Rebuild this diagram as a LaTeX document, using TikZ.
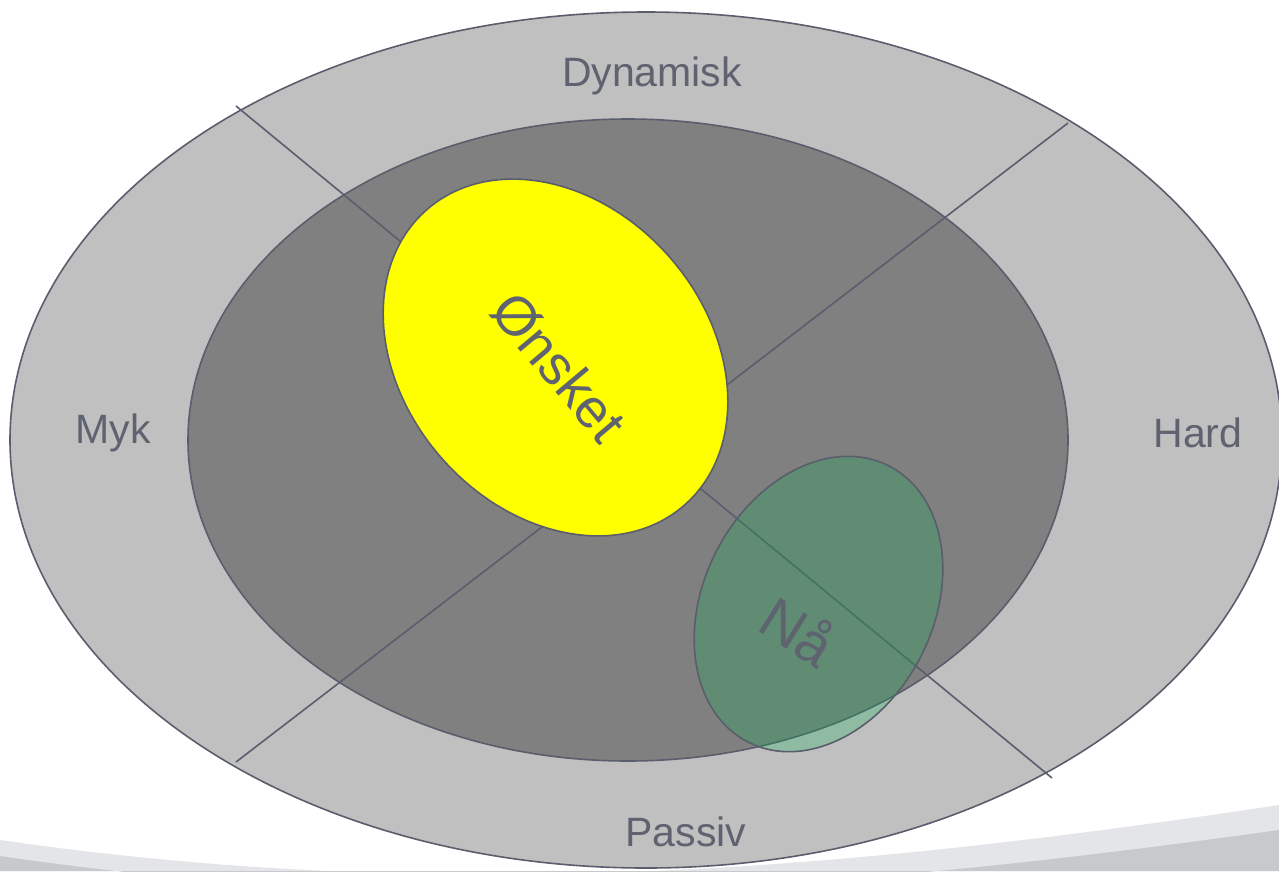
\documentclass[tikz,border=0pt]{standalone}
\usepackage{fontspec}
\setmainfont{Liberation Sans}
\begin{document}
\begin{tikzpicture}[x=1pt,y=-1pt,
  edge/.style={draw=lineC, line width=1.6pt},
  lbl/.style={text=txtC, font=\fontsize{41}{48}\selectfont, inner sep=0pt},
  big/.style={text=txtC, inner sep=0pt}]
\definecolor{lineC}{RGB}{90,94,108}
\definecolor{txtC}{RGB}{95,99,112}
\definecolor{outerC}{RGB}{192,192,192}
\definecolor{innerC}{RGB}{128,128,128}
\definecolor{wishC}{RGB}{255,255,0}
\definecolor{nowC}{RGB}{0,176,80}
\definecolor{swA}{RGB}{228,229,232}
\definecolor{swB}{RGB}{200,201,205}
\useasboundingbox (0,0) rectangle (1279,871);
\fill[white] (0,0) rectangle (1279,871);
% bottom swoosh
\fill[swA] (0,840) .. controls (450,905) and (850,870) .. (1279,805) -- (1279,871) -- (0,871) -- cycle;
\fill[swB] (0,856) .. controls (450,922) and (850,890) .. (1279,830) -- (1279,871) -- (0,871) -- cycle;
% rings
\draw[edge, fill=outerC] (646,440) ellipse [x radius=636pt, y radius=428pt];
\draw[edge, fill=innerC] (628,440) ellipse [x radius=440pt, y radius=321pt];
\coordinate (a1) at (236,106);
\coordinate (a2) at (1052,778);
\coordinate (b1) at (1068,123);
\coordinate (b2) at (236,762);
\draw[edge] (a1) -- (a2);
\draw[edge] (b1) -- (b2);
% wish and now
\draw[edge, fill=wishC] (555.5,357.5) ellipse [x radius=196pt, y radius=152pt, rotate=-49];
\draw[edge, fill=nowC, fill opacity=0.25] (818.5,604) ellipse [x radius=155pt, y radius=115pt, rotate=63];
% labels
\node[lbl] (dyn) at (652,76) {Dynamisk};
\node[lbl] (myk) at (113,433) {Myk};
\node[lbl] (hard) at (1198,433) {Hard};
\node[lbl] (pas) at (686,832) {Passiv};
\node[big, font=\fontsize{55}{62}\selectfont, rotate=-50] (ons) at (559,367) {Ønsket};
\node[big, font=\fontsize{58}{66}\selectfont, rotate=-32] (naa) at (799,630) {Nå};
\end{tikzpicture}
\end{document}
